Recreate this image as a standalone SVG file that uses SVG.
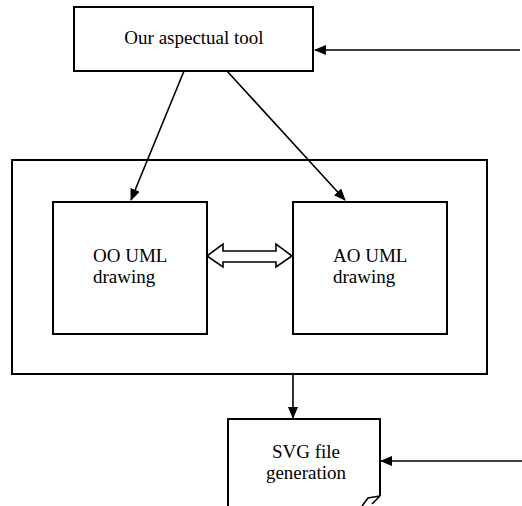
<svg xmlns="http://www.w3.org/2000/svg" width="522" height="506" viewBox="0 0 522 506">
<style>
.box{fill:#fff;stroke:#000;stroke-width:2}
.ln{fill:none;stroke:#000;stroke-width:1.6}
.t{font-family:"Liberation Serif","Times New Roman",serif;font-size:19px;fill:#000}
</style>
<defs>
<marker id="ah" markerWidth="12" markerHeight="10" refX="11" refY="5" orient="auto" markerUnits="userSpaceOnUse">
<path d="M0,0 L12,5 L0,10 Z" fill="#000"/>
</marker>
</defs>
<rect width="522" height="506" fill="#fff"/>
<g id="tool">
<rect class="box" x="74" y="7" width="239" height="64"/>
<text class="t" x="194" y="44" text-anchor="middle">Our aspectual tool</text>
</g>
<g id="container">
<rect class="box" x="12" y="160" width="475" height="214"/>
</g>
<g id="oo">
<rect class="box" x="53" y="202" width="154" height="132"/>
<text class="t" x="93" y="262">OO UML</text>
<text class="t" x="93" y="283">drawing</text>
</g>
<g id="ao">
<rect class="box" x="293" y="202" width="154" height="132"/>
<text class="t" x="333" y="262">AO UML</text>
<text class="t" x="333" y="283">drawing</text>
</g>
<g id="svggen">
<path class="box" d="M380,496 V419 H228 V506"/>
<path class="ln" d="M380,496 L368,498 L362,506 M380,496 L372,504"/>
<text class="t" x="306" y="458" text-anchor="middle">SVG file</text>
<text class="t" x="306" y="479" text-anchor="middle">generation</text>
</g>
<g id="connectors">
<line class="ln" x1="520" y1="50" x2="315" y2="50" marker-end="url(#ah)"/>
<line class="ln" x1="184" y1="71" x2="131" y2="200" marker-end="url(#ah)"/>
<line class="ln" x1="227" y1="71" x2="345" y2="200" marker-end="url(#ah)"/>
<line class="ln" x1="293" y1="374" x2="293" y2="418" marker-end="url(#ah)"/>
<line class="ln" x1="522" y1="461" x2="381" y2="461" marker-end="url(#ah)"/>
<path class="ln" style="fill:#fff" d="M207,256 L223,244 L223,251 L276,251 L276,244 L292,256 L276,267 L276,262 L223,262 L223,267 Z"/>
</g>
</svg>
